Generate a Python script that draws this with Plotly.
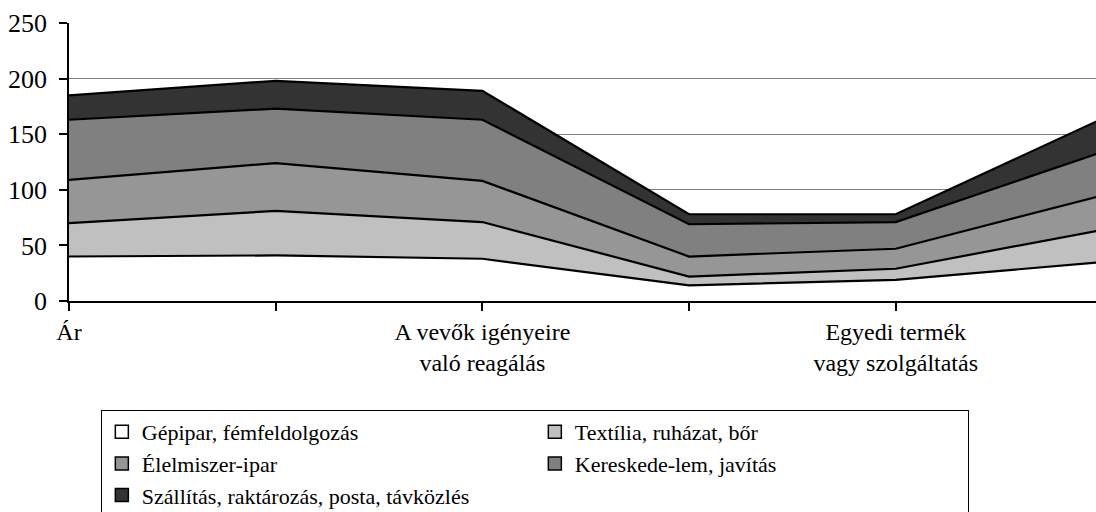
import plotly.graph_objects as go

categories = [0, 1, 2, 3, 4, 5]
tick_labels = ["Ár", "", "A vevők igényeire<br>való reagálás", "", "Egyedi termék<br>vagy szolgáltatás", ""]

series_names = [
    "Gépipar, fémfeldolgozás",
    "Textília, ruházat, bőr",
    "Élelmiszer-ipar",
    "Kereskede-lem, javítás",
    "Szállítás, raktározás, posta, távközlés",
]
gepipar = [40, 41, 38, 14, 19, 35]
textilia = [30, 40, 33, 8, 10, 29]
elelmiszer = [39, 43, 37, 18, 18, 31]
kereskedelem = [54, 49, 55, 29, 24, 39]
szallitas = [22, 25, 26, 9, 7, 30]
series_values = [gepipar, textilia, elelmiszer, kereskedelem, szallitas]
colors = ["#FFFFFF", "#C0C0C0", "#969696", "#808080", "#333333"]

FONT = "Liberation Serif, Times New Roman, serif"

fig = go.Figure()
for name, vals, col in zip(series_names, series_values, colors):
    fig.add_trace(go.Scatter(
        x=categories, y=vals, name=name, mode="lines",
        stackgroup="one", fillcolor=col,
        line=dict(color="black", width=2.2),
        showlegend=False, hoverinfo="skip",
    ))
# legend entries with square swatches
for name, col in zip(series_names, colors):
    fig.add_trace(go.Scatter(
        x=[None], y=[None], name=name, mode="markers",
        marker=dict(symbol="square", size=13, color=col,
                    line=dict(color="black", width=1.5)),
    ))

fig.update_layout(
    width=1096, height=512,
    margin=dict(l=69, r=0, t=23, b=211, autoexpand=False),
    paper_bgcolor="white", plot_bgcolor="white",
    font=dict(family=FONT, size=25, color="black"),
    xaxis=dict(
        range=[0, 4.969], tickmode="array", tickvals=categories, ticktext=tick_labels,
        showgrid=False, showline=True, linecolor="black", linewidth=2,
        ticks="outside", ticklen=8, tickcolor="black", tickwidth=1.5,
        ticklabelstandoff=0, zeroline=False, automargin=False,
        tickfont=dict(family=FONT, size=24),
    ),
    yaxis=dict(
        range=[0, 250], tickvals=[0, 50, 100, 150, 200, 250],
        showgrid=True, gridcolor="#808080", gridwidth=1,
        showline=True, linecolor="black", linewidth=1.5,
        ticks="outside", ticklen=8, tickcolor="black", tickwidth=1.5,
        ticklabelstandoff=7, zeroline=False, automargin=False,
        tickfont=dict(family=FONT, size=26),
    ),
    legend=dict(
        orientation="h", x=0.031, xanchor="left",
        y=1 - 410 / 512, yref="container", yanchor="top",
        bordercolor="black", borderwidth=1, bgcolor="white",
        entrywidth=388, entrywidthmode="pixels", traceorder="normal",
        font=dict(family=FONT, size=22), itemwidth=30,
    ),
)

fig.write_html("out.html", config={"displayModeBar": False},
               post_script="document.body.style.margin='0';")
